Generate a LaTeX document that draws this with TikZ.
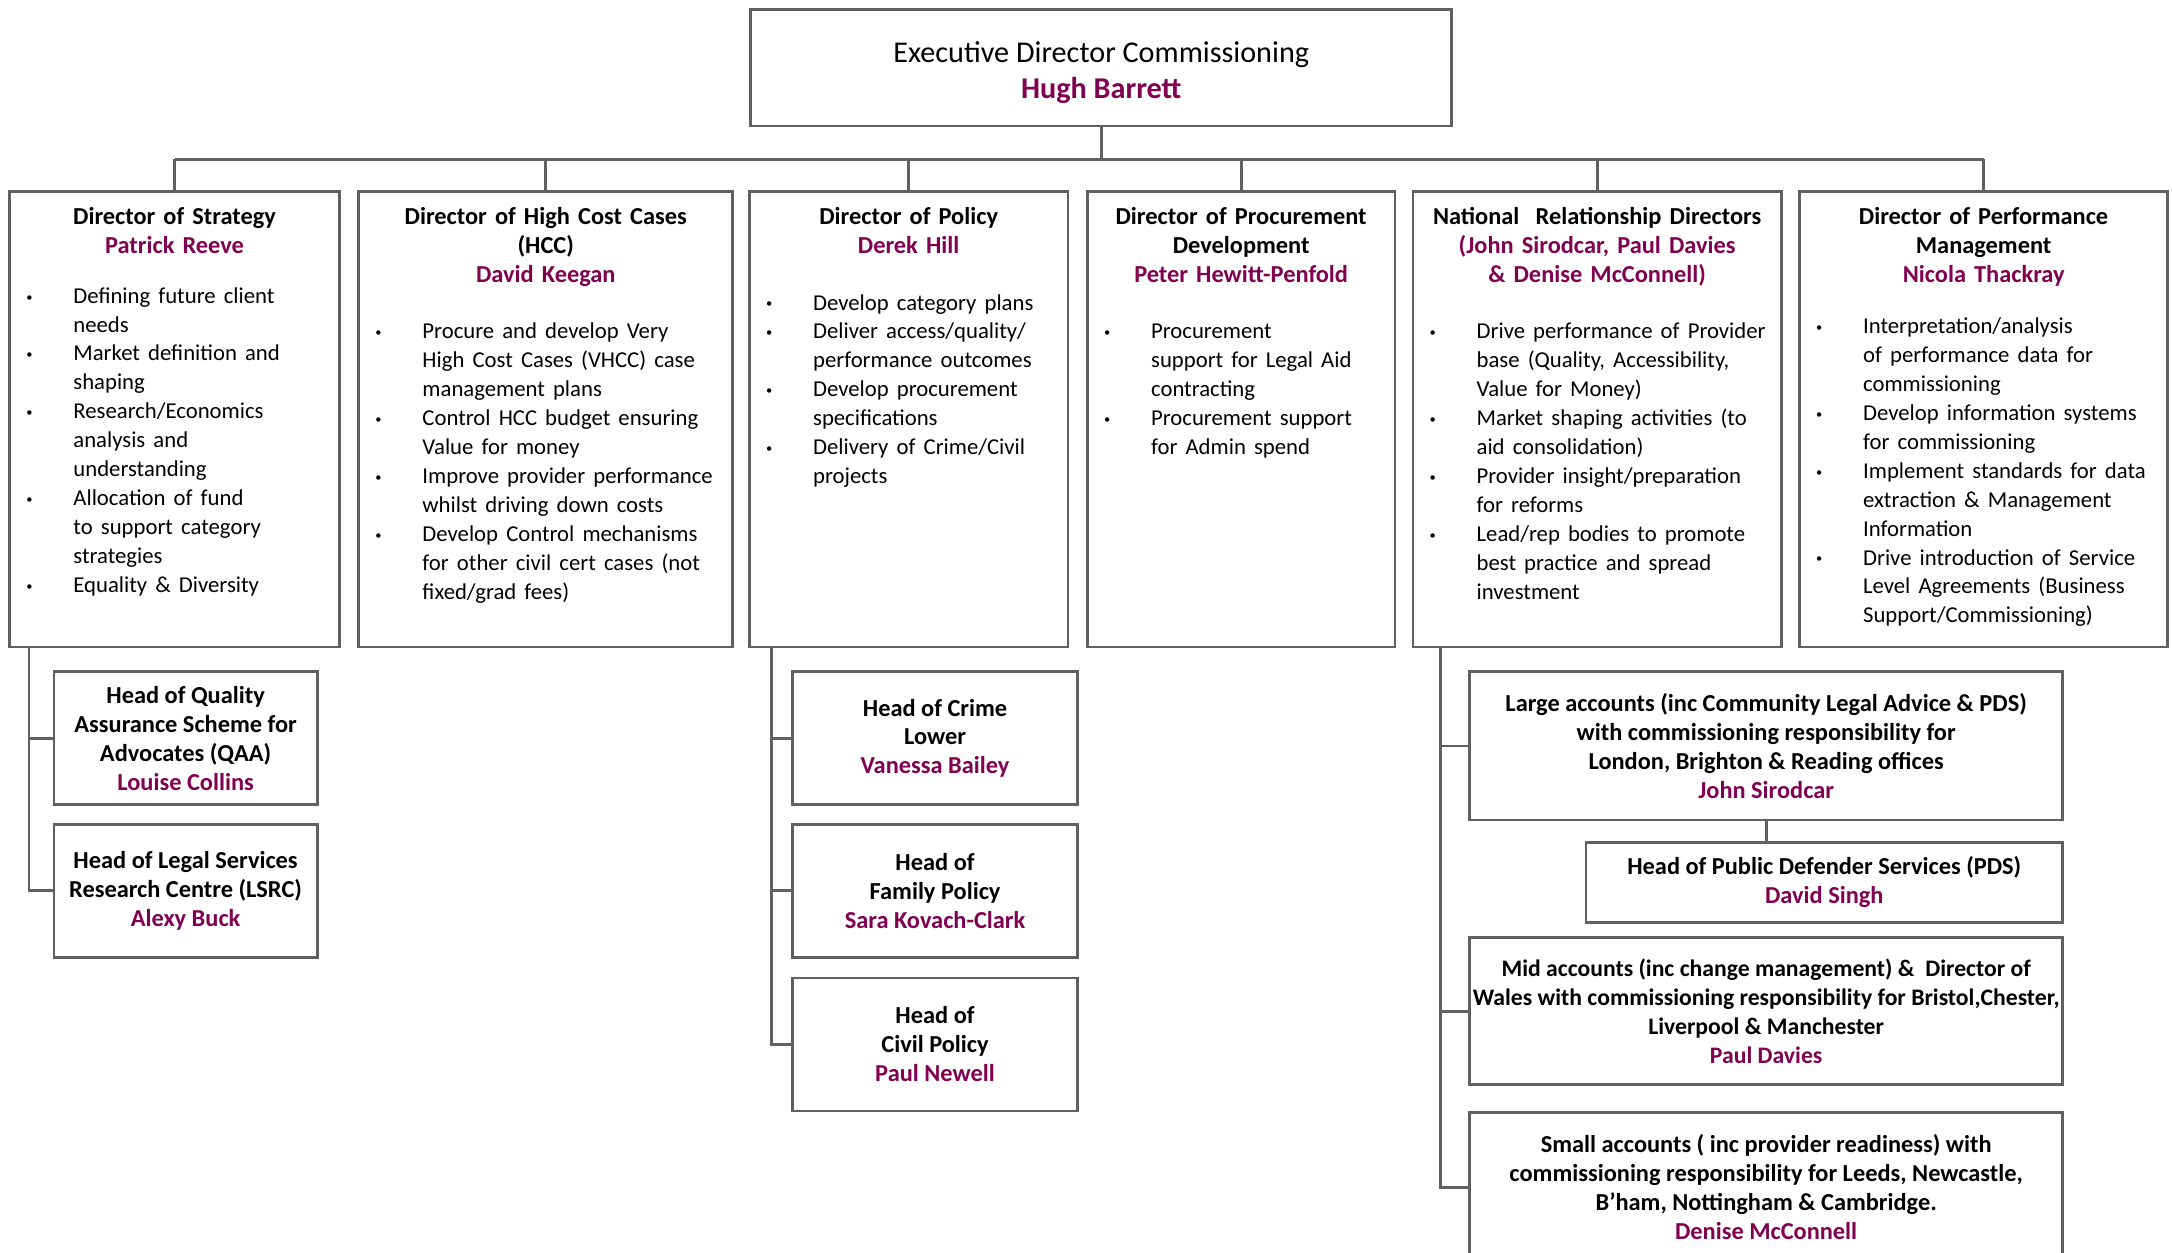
\documentclass[tikz,border=0pt]{standalone}
\usepackage{fontspec}
\setmainfont{Carlito}
\usetikzlibrary{positioning, calc}
\definecolor{namepurple}{RGB}{128, 0, 82}
\definecolor{boxgrey}{RGB}{96, 96, 96}
\newcommand{\staffname}[1]{\textcolor{namepurple}{\textbf{#1}}}
\newcommand{\blt}{\raisebox{1.5pt}{\fontsize{9}{9}\selectfont\textbullet}}
\newenvironment{duties}{\fontsize{16.4}{20.9}\selectfont\mdseries
  \begin{tabular}[t]{@{}p{34pt}@{}l@{}}}{\end{tabular}\hskip 0pt plus 1filll\null}

\begin{document}
\begin{tikzpicture}[x=1pt, y=-1pt,
  link/.style={draw=boxgrey, line width=2pt},
  topbox/.style={draw=boxgrey, line width=2pt, fill=white, anchor=north west, align=center,
    minimum width=506, minimum height=84, font={\fontsize{21.8}{26}\selectfont}},
  dirbox/.style={draw=boxgrey, line width=2pt, fill=white, anchor=north west, align=center,
    inner xsep=12pt, inner ysep=0pt, text height=24pt, text depth=305pt,
    font={\fontsize{17.6}{20.9}\selectfont\bfseries}},
  headbox/.style={draw=boxgrey, line width=2pt, fill=white, align=center, inner sep=0pt,
    font={\fontsize{17.6}{20.9}\selectfont\bfseries}},
]
  \fill[white] (0,0) rectangle (1568,904);
  \useasboundingbox (0,0) rectangle (1568,904);

  % top of the chart
  \node[topbox] (top) at (541,6) {\\[-4pt]Executive Director Commissioning\\ \staffname{Hugh Barrett}};
  \coordinate (bus) at ([yshift=-23pt]top.south);

  % directors
  \node[dirbox, text width=214pt] (strat) at (6,137) {
    Director of Strategy\\
    \staffname{Patrick Reeve}\\[15pt]
    \begin{duties}
      \blt & Defining future client\\
           & needs\\
      \blt & Market definition and\\
           & shaping\\
      \blt & Research/Economics\\
           & analysis and\\
           & understanding\\
      \blt & Allocation of fund\\
           & to support category\\
           & strategies\\
      \blt & Equality \& Diversity
    \end{duties}
  };
  \node[dirbox, text width=246pt] (hcc) at (258,137) {
    Director of High Cost Cases\\
    (HCC)\\
    \staffname{David Keegan}\\[20pt]
    \begin{duties}
      \blt & Procure and develop Very\\
           & High Cost Cases (VHCC) case\\
           & management plans\\
      \blt & Control HCC budget ensuring\\
           & Value for money\\
      \blt & Improve provider performance\\
           & whilst driving down costs\\
      \blt & Develop Control mechanisms\\
           & for other civil cert cases (not\\
           & fixed/grad fees)
    \end{duties}
  };
  \node[dirbox, text width=206pt] (pol) at (540,137) {
    Director of Policy\\
    \staffname{Derek Hill}\\[20pt]
    \begin{duties}
      \blt & Develop category plans\\
      \blt & Deliver access/quality/\\
           & performance outcomes\\
      \blt & Develop procurement\\
           & specifications\\
      \blt & Delivery of Crime/Civil\\
           & projects
    \end{duties}
  };
  \node[dirbox, text width=198pt] (proc) at (784,137) {
    Director of Procurement\\
    Development\\
    \staffname{Peter Hewitt-Penfold}\\[20pt]
    \begin{duties}
      \blt & Procurement\\
           & support for Legal Aid\\
           & contracting\\
      \blt & Procurement support\\
           & for Admin spend
    \end{duties}
  };
  \node[dirbox, text width=242pt] (nrd) at (1019,137) {
    National\ \ Relationship Directors\\
    \staffname{(John Sirodcar, Paul Davies}\\
    \staffname{\& Denise McConnell)}\\[20pt]
    \begin{duties}
      \blt & Drive performance of Provider\\
           & base (Quality, Accessibility,\\
           & Value for Money)\\
      \blt & Market shaping activities (to\\
           & aid consolidation)\\
      \blt & Provider insight/preparation\\
           & for reforms\\
      \blt & Lead/rep bodies to promote\\
           & best practice and spread\\
           & investment
    \end{duties}
  };
  \node[dirbox, text width=242pt] (perf) at (1298,137) {
    Director of Performance\\
    Management\\
    \staffname{Nicola Thackray}\\[16pt]
    \begin{duties}
      \blt & Interpretation/analysis\\
           & of performance data for\\
           & commissioning\\
      \blt & Develop information systems\\
           & for commissioning\\
      \blt & Implement standards for data\\
           & extraction \& Management\\
           & Information\\
      \blt & Drive introduction of Service\\
           & Level Agreements (Business\\
           & Support/Commissioning)
    \end{duties}
  };

  % heads under strategy
  \node[headbox, anchor=north west, minimum width=190, minimum height=96] (qaa) at (38,484)
    {Head of Quality\\ Assurance Scheme for\\ Advocates (QAA)\\ \staffname{Louise Collins}};
  \node[headbox, minimum width=190, minimum height=96, below=12pt of qaa] (lsrc)
    {Head of Legal Services\\ Research Centre (LSRC)\\ \staffname{Alexy Buck}};

  % heads under policy
  \node[headbox, anchor=north west, minimum width=206, minimum height=96] (crime) at (571,484)
    {Head of Crime\\ Lower\\ \staffname{Vanessa Bailey}};
  \node[headbox, minimum width=206, minimum height=96, below=12pt of crime] (family)
    {Head of\\ Family Policy\\ \staffname{Sara Kovach-Clark}};
  \node[headbox, minimum width=206, minimum height=96, below=13pt of family] (civil)
    {Head of\\ Civil Policy\\ \staffname{Paul Newell}};

  % accounts under the relationship directors
  \node[headbox, anchor=north west, minimum width=428, minimum height=107] (large) at (1060,484)
    {Large accounts (inc Community Legal Advice \& PDS)\\ with commissioning responsibility for\\
     London, Brighton \& Reading offices\\ \staffname{John Sirodcar}};
  \node[headbox, minimum width=344, minimum height=58, below=14pt of large.south east, anchor=north east] (pds)
    {Head of Public Defender Services (PDS)\\ \staffname{David Singh}};
  \node[headbox, anchor=north west, minimum width=428, minimum height=106,
    font={\fontsize{17.1}{20.9}\selectfont\bfseries}] (mid) at (1060,676)
    {Mid accounts (inc change management) \&\ \ Director of\\
     Wales with commissioning responsibility for Bristol,Chester,\\
     Liverpool \& Manchester\\ \staffname{Paul Davies}};
  \node[headbox, minimum width=428, minimum height=108, below=18pt of mid] (small)
    {Small accounts ( inc provider readiness) with\\
     commissioning responsibility for Leeds, Newcastle,\\
     B’ham, Nottingham \& Cambridge.\\ \staffname{Denise McConnell}};

  % connectors
  \draw[link] (top.south) -- (bus);
  \draw[link] (strat.north |- bus) -- (perf.north |- bus);
  \foreach \n in {strat, hcc, pol, proc, nrd, perf}
    \draw[link] (\n.north) -- (\n.north |- bus);
  \draw[link] ([xshift=15pt]strat.south west) |- (qaa.west);
  \draw[link] ([xshift=15pt]strat.south west) |- (lsrc.west);
  \foreach \n in {crime, family, civil}
    \draw[link] ([xshift=17pt]pol.south west) |- (\n.west);
  \foreach \n in {large, mid, small}
    \draw[link] ([xshift=21pt]nrd.south west) |- (\n.west);
  \draw[link] (large.south) -- (large.south |- pds.north);
\end{tikzpicture}
\end{document}
